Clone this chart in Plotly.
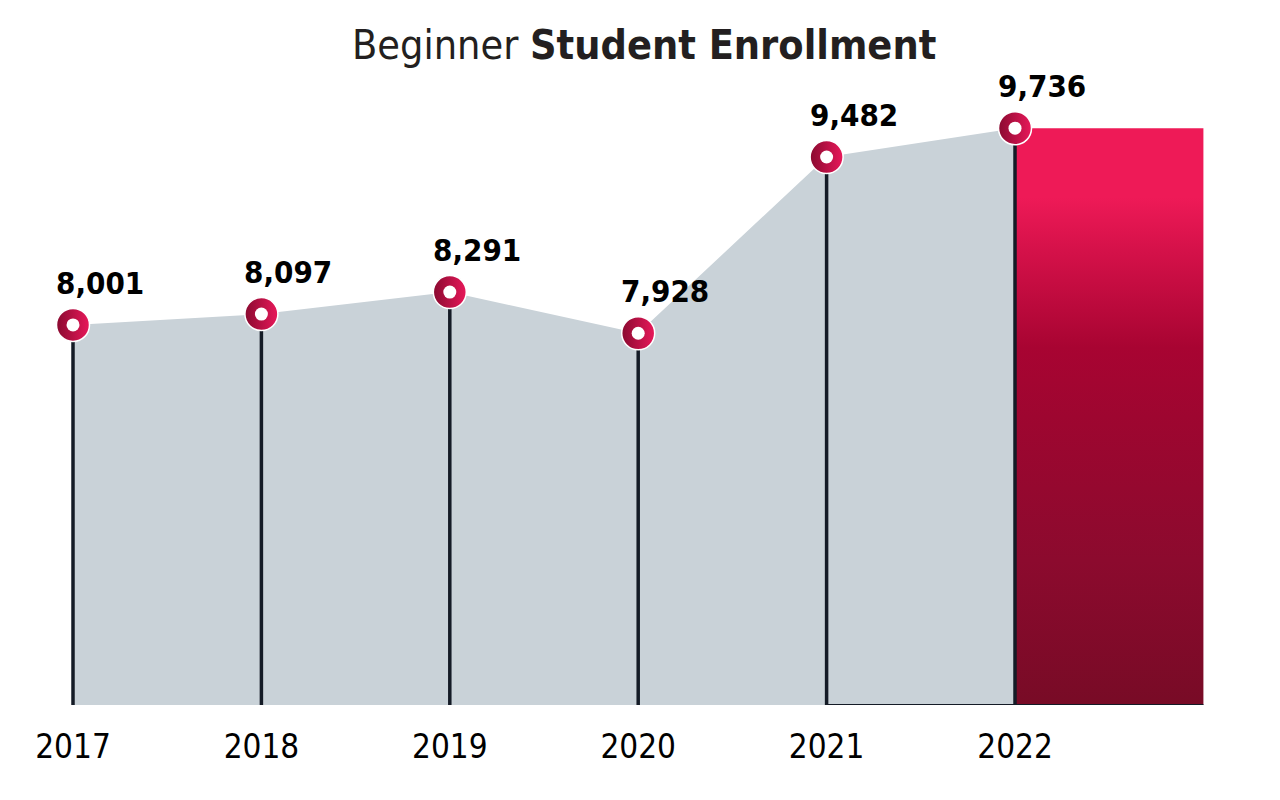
# Beginner Student Enrollment - gray area with stems, last year highlighted
import plotly.graph_objects as go

# ---- data ----
years = [2017, 2018, 2019, 2020, 2021, 2022]
enrollment = [8001, 8097, 8291, 7928, 9482, 9736]
tick_labels = ["2017", "2018", "2019", "2020", "2021", "2022"]

# ---- styling ----
NARROW = "Liberation Sans Narrow, 'DejaVu Sans Condensed', Arial Narrow, sans-serif"
GRAY_FILL = "#C9D2D8"
STEM = "#141B26"
y_floor = 4650     # axis bottom (chart is not zero-based)
y_top = 10796

fig = go.Figure()

# gray area under the line
fig.add_trace(go.Scatter(
    x=years, y=enrollment, mode="lines", fill="tozeroy",
    fillcolor=GRAY_FILL, line=dict(width=0, color=GRAY_FILL),
    hoverinfo="skip", showlegend=False,
))

# red highlight block for the latest year (extends one year to the right)
fig.add_trace(go.Scatter(
    x=[years[-1], years[-1] + 1], y=[enrollment[-1], enrollment[-1]],
    mode="lines", fill="tozeroy", line=dict(width=0, color="#EE1A57"),
    fillgradient=dict(
        type="vertical", start=y_floor, stop=enrollment[-1],
        colorscale=[[0.0, "#780B26"], [0.25, "#8C0A2E"], [0.5, "#9E0630"],
                    [0.62, "#A80432"], [0.8, "#D8124B"], [0.88, "#EE1A57"],
                    [1.0, "#EE1A57"]],
    ),
    hoverinfo="skip", showlegend=False,
))

# thin baseline under the right part
fig.add_trace(go.Scatter(
    x=[years[-2], years[-1] + 1], y=[y_floor, y_floor], mode="lines",
    line=dict(width=2, color=STEM), hoverinfo="skip", showlegend=False,
))

# vertical stems
stem_x, stem_y = [], []
for yr, v in zip(years, enrollment):
    stem_x += [yr, yr, None]
    stem_y += [y_floor, v, None]
fig.add_trace(go.Scatter(
    x=stem_x, y=stem_y, mode="lines",
    line=dict(width=3.5, color=STEM), hoverinfo="skip", showlegend=False,
))

# donut markers: crimson ring + white hole
fig.add_trace(go.Scatter(
    x=years, y=enrollment, mode="markers",
    marker=dict(size=33, color="#8A0A30",
                gradient=dict(type="horizontal", color="#E8185A"),
                line=dict(width=1.5, color="white")),
    hoverinfo="skip", showlegend=False,
))
fig.add_trace(go.Scatter(
    x=years, y=enrollment, mode="markers",
    marker=dict(size=13, color="white", line=dict(width=0)),
    hovertemplate="%{x}: %{y:,}<extra></extra>", showlegend=False,
))

# value labels
for yr, v in zip(years, enrollment):
    fig.add_annotation(
        x=yr, y=v, text=f"<b>{v:,}</b>", showarrow=False,
        xanchor="center", yanchor="middle", xshift=27, yshift=42,
        font=dict(family=NARROW, size=31, color="#000000"),
    )

fig.update_layout(
    width=1280, height=800,
    paper_bgcolor="white", plot_bgcolor="white",
    margin=dict(l=0, r=0, t=0, b=103),
    title=dict(
        text="Beginner <b>Student Enrollment</b>",
        x=0.497, xanchor="center", y=0.954, yanchor="middle",
        font=dict(family=NARROW, size=41, color="#231F20"),
    ),
    xaxis=dict(
        range=[2016.655, 2023.449], tickvals=years, ticktext=tick_labels,
        showgrid=False, zeroline=False, showline=False, ticks="",
        tickfont=dict(family=NARROW, size=33, color="#000000"),
        ticklabelstandoff=19,
    ),
    yaxis=dict(
        range=[y_floor, y_top], visible=False, showgrid=False, zeroline=False,
    ),
    showlegend=False,
)

fig.write_html("out.html")
